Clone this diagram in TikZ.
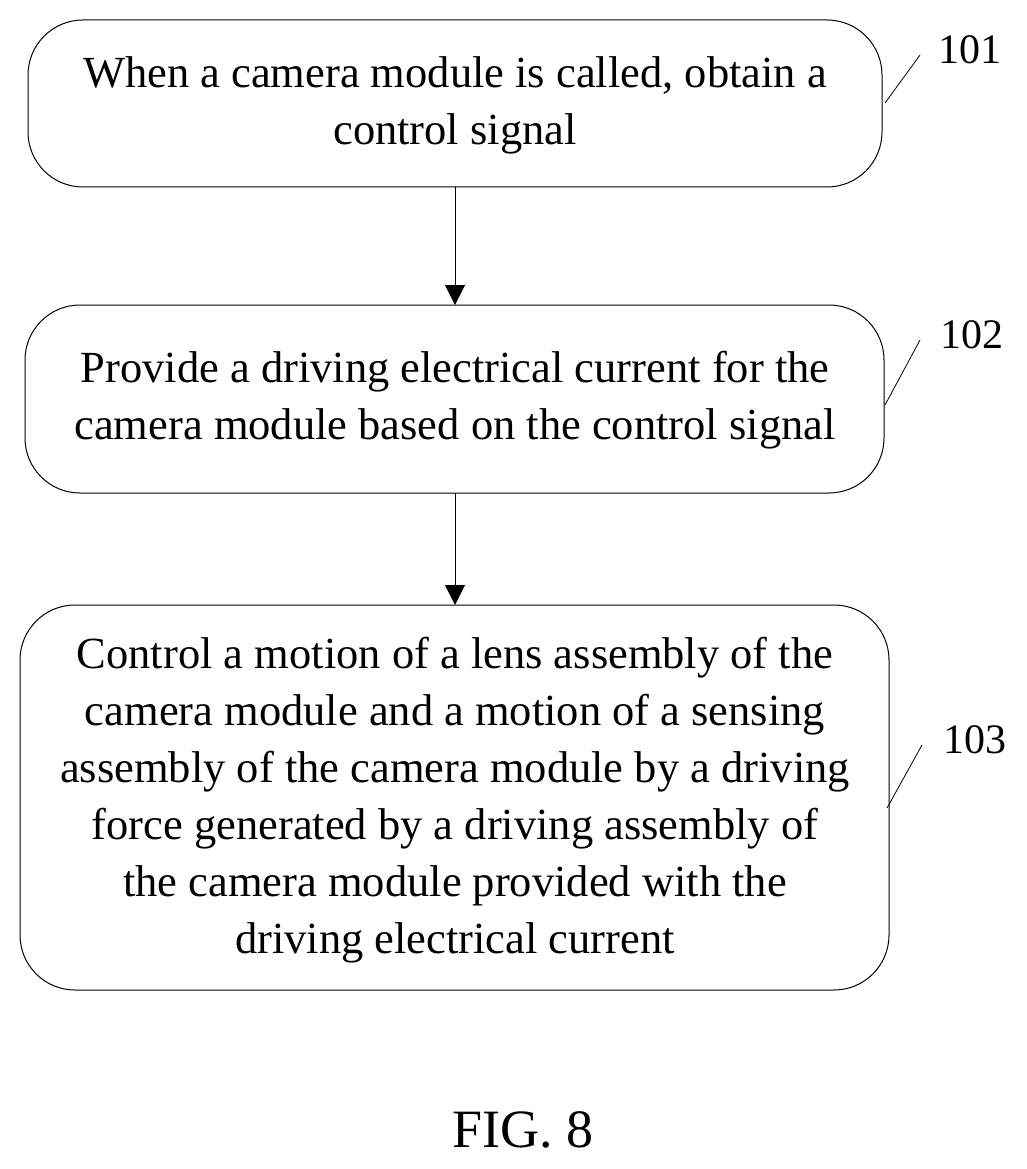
\documentclass[tikz,border=0pt]{standalone}
\usepackage{fontspec}
\setmainfont{Liberation Serif}
\usetikzlibrary{arrows.meta}
\begin{document}
\begin{tikzpicture}[x=1pt,y=-1pt,
  box/.style={draw,line width=1pt,rounded corners=55pt},
  txt/.style={align=center,font=\fontsize{44.5}{57}\selectfont},
  lab/.style={font=\fontsize{42}{48}\selectfont},
  arr/.style={line width=1pt,-{Triangle[length=20pt,width=20pt]}}]
\useasboundingbox (0,0) rectangle (1027,1169);
\draw[box] (28,20) rectangle (882,187);
\draw[box] (25,305) rectangle (884,493);
\draw[box] (20,605) rectangle (889,990);
\node[txt] (t1) at (455,105) {When a camera module is called, obtain a\\control signal};
\node[txt] (t2) at (455,400) {Provide a driving electrical current for the\\camera module based on the control signal};
\node[txt] (t3) at (455,800) {Control a motion of a lens assembly of the\\camera module and a motion of a sensing\\assembly of the camera module by a driving\\force generated by a driving assembly of\\the camera module provided with the\\driving electrical current};
\coordinate (a1) at (455,187); \coordinate (b1) at (455,305);
\coordinate (a2) at (455,493); \coordinate (b2) at (455,605);
\draw[arr] (a1) -- (b1);
\draw[arr] (a2) -- (b2);
\node[lab] (l1) at (970,50) {101};
\node[lab] (l2) at (972,335) {102};
\node[lab] (l3) at (975,740) {103};
\coordinate (c1) at (885,103); \coordinate (d1) at (920,55);
\coordinate (c2) at (885,405); \coordinate (d2) at (920,340);
\coordinate (c3) at (887,808); \coordinate (d3) at (922,745);
\draw[line width=0.8pt] (c1)--(d1) (c2)--(d2) (c3)--(d3);
\node[font=\fontsize{54}{60}\selectfont] (fig) at (523,1130) {FIG. 8};
\end{tikzpicture}
\end{document}
